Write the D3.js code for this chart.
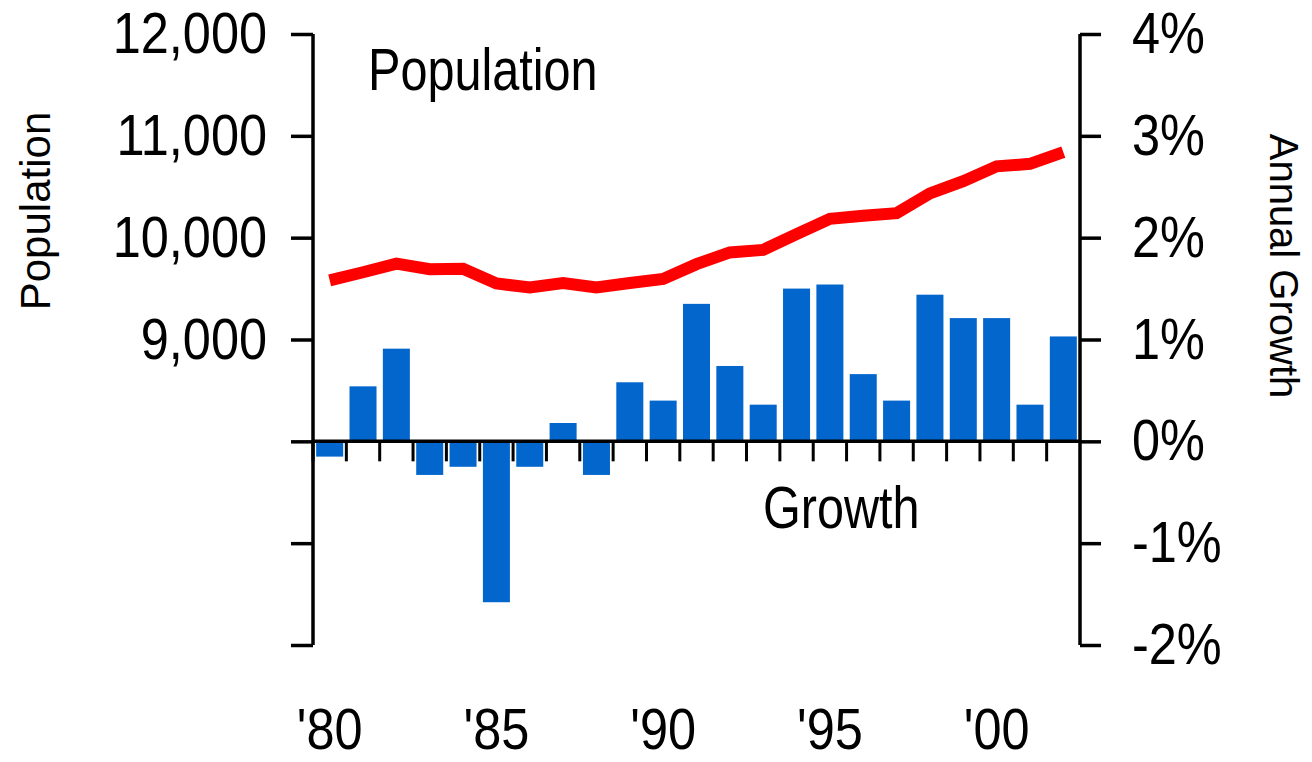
<!DOCTYPE html>
<html>
<head>
<meta charset="utf-8">
<script src="https://cdnjs.cloudflare.com/ajax/libs/d3/7.8.5/d3.min.js"></script>
<style>
	html, body { margin: 0; padding: 0; background: #fff; }
	svg { display: block; }
	text { font-family: "Liberation Sans", Arial, sans-serif; fill: #000; }
	.axis path, .axis line { stroke: #000; }
</style>
</head>
<body>
<svg id="chart" width="1312" height="762"></svg>
<script>
var years = d3.range(1980, 2003);
var population = [9580, 9660, 9745, 9690, 9695, 9550, 9510, 9555, 9510, 9555, 9595, 9740,
	9855, 9880, 10035, 10185, 10215, 10240, 10435, 10555, 10700, 10725, 10840];
var growth = [-0.15, 0.54, 0.91, -0.33, -0.25, -1.58, -0.25, 0.18, -0.33, 0.58, 0.40, 1.35,
	0.74, 0.36, 1.50, 1.54, 0.66, 0.40, 1.44, 1.21, 1.21, 0.36, 1.03];
var popTicks = [6000, 7000, 8000, 9000, 10000, 11000, 12000];
var growthTicks = [-2, -1, 0, 1, 2, 3, 4];
var yearLabels = { 1980: "'80", 1985: "'85", 1990: "'90", 1995: "'95", 2000: "'00" };

var svg = d3.select('#chart');
var plotLeft = 313, plotRight = 1080, plotTop = 34, plotBottom = 645;
var narrow = 0.87; // no narrow font installed, so squeeze the regular one

var x = d3.scaleBand().domain(years).range([plotLeft, plotRight]).paddingInner(0.19).paddingOuter(0.095);
var yPop = d3.scaleLinear().domain([6000, 12000]).range([plotBottom, plotTop]);
var yGrowth = d3.scaleLinear().domain([-2, 4]).range([plotBottom, plotTop]);

// squeezed text placed at (px, py)
function narrowText(parent, px, py, size, sx, str) {
	return parent.append('text')
		.attr('transform', 'translate(' + px + ',' + py + ') scale(' + sx + ',1)')
		.attr('font-size', size)
		.text(str);
}

// bars
svg.append('g').selectAll('rect')
	.data(years)
	.enter().append('rect')
	.attr('x', function(d) { return x(d); })
	.attr('width', x.bandwidth())
	.attr('y', function(d, i) { return yGrowth(Math.max(0, growth[i])); })
	.attr('height', function(d, i) { return Math.abs(yGrowth(growth[i]) - yGrowth(0)); })
	.attr('fill', '#0366cc');

// left axis
var leftAxis = svg.append('g')
	.attr('class', 'axis')
	.attr('transform', 'translate(' + plotLeft + ',0)')
	.call(d3.axisLeft(yPop).tickValues(popTicks).tickSize(22).tickPadding(24)
		.tickFormat(function(d) { return d >= 9000 ? d3.format(',')(d) : ''; }));

// right axis
var rightAxis = svg.append('g')
	.attr('class', 'axis')
	.attr('transform', 'translate(' + plotRight + ',0)')
	.call(d3.axisRight(yGrowth).tickValues(growthTicks).tickSize(21).tickPadding(31)
		.tickFormat(function(d) { return d + '%'; }));

[leftAxis, rightAxis].forEach(function(g) {
	g.select('.domain').attr('stroke-width', 3.5).attr('d', 'M0,' + plotTop + 'V' + plotBottom);
	g.selectAll('.tick line').attr('stroke-width', 3.5);
	g.selectAll('.tick text')
		.attr('font-size', 58)
		.attr('x', function() { return +d3.select(this).attr('x') / narrow; })
		.attr('transform', 'scale(' + narrow + ',1)');
});

// zero line with ticks between the years
var zeroY = yGrowth(0);
svg.append('line')
	.attr('x1', plotLeft).attr('x2', plotRight)
	.attr('y1', zeroY).attr('y2', zeroY)
	.attr('stroke', '#000').attr('stroke-width', 3.5);

var gap = (x.step() - x.bandwidth()) / 2;
svg.append('g').selectAll('line')
	.data(years)
	.enter().append('line')
	.attr('x1', function(d) { return x(d) - gap; })
	.attr('x2', function(d) { return x(d) - gap; })
	.attr('y1', zeroY)
	.attr('y2', zeroY + 20)
	.attr('stroke', '#000').attr('stroke-width', 3);

// year labels
var yearGroup = svg.append('g').attr('text-anchor', 'middle');
years.filter(function(d) { return yearLabels[d]; }).forEach(function(d) {
	narrowText(yearGroup, x(d) + x.bandwidth() / 2, 749, 58, narrow, yearLabels[d]);
});

// population line
var line = d3.line()
	.x(function(d) { return x(d) + x.bandwidth() / 2; })
	.y(function(d, i) { return yPop(population[i]); });

svg.append('path')
	.datum(years)
	.attr('d', line)
	.attr('fill', 'none')
	.attr('stroke', '#ff0000')
	.attr('stroke-width', 12)
	.attr('stroke-linejoin', 'miter');

// annotations
narrowText(svg, 368, 90, 60, 0.81, 'Population');
narrowText(svg, 763, 528, 60, 0.81, 'Growth');

// axis titles
svg.append('text')
	.attr('transform', 'translate(50,211) rotate(-90)')
	.attr('text-anchor', 'middle')
	.attr('font-size', 42)
	.text('Population');

svg.append('text')
	.attr('transform', 'translate(1270,266) rotate(90)')
	.attr('text-anchor', 'middle')
	.attr('font-size', 40)
	.text('Annual Growth');
</script>
</body>
</html>
